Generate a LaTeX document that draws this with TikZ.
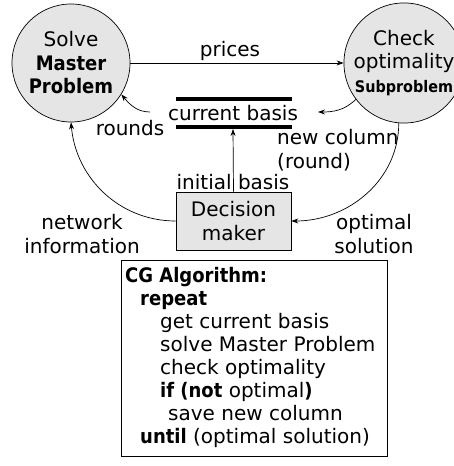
\documentclass[tikz,border=0pt]{standalone}
\usepackage{fontspec}
\setmainfont{DejaVu Sans}[BoldFont={DejaVu Sans Condensed Bold}]
\usetikzlibrary{arrows.meta}
\begin{document}
\begin{tikzpicture}[x=1pt,y=1pt,
  every node/.style={font=\fontsize{20}{23.5}\selectfont, inner sep=0pt},
  circ/.style={circle, draw, fill=black!10, minimum size=118pt, align=center, line width=0.7pt},
  dbox/.style={draw, fill=black!10, minimum width=115pt, minimum height=58pt, align=center, line width=0.7pt},
  arr/.style={-{Stealth[length=7pt,width=5pt]}, line width=0.7pt},
  bar/.style={line width=4pt},
  lbl/.style={align=center}]
\useasboundingbox (0,0) rectangle (454,466);
\node[circ] (master) at (71,403) {Solve\\\textbf{Master}\\\textbf{Problem}};
\node[circ] (check) at (404,403) {Check\\optimality\\{\fontsize{16}{18}\selectfont\bfseries Subproblem}};
\draw[arr] (master) -- (check);
\node (pr) at (230,415) {prices};
% current basis
\node (cb) at (233,353) {current basis};
\coordinate (b1l) at (176,367); \coordinate (b1r) at (292,367);
\coordinate (b2l) at (176,339); \coordinate (b2r) at (292,339);
\coordinate (b2m) at (233,337);
\draw[bar] (b1l) -- (b1r);
\draw[bar] (b2l) -- (b2r);
% decision maker
\node[dbox] (dm) at (233.5,245) {Decision\\maker};
\draw[arr] (dm.north) -- (b2m);
\node (ib) at (233,284) {initial basis};
% rounds
\coordinate (rs) at (150,354);
\draw[arr] (rs) to[out=180,in=-50] (master.-32);
\node (rd) at (130,338) {rounds};
% new column
\coordinate (ne) at (318,354);
\draw[arr] (check.-143) to[out=225,in=0] (ne);
\node[align=left, anchor=west] (nc) at (277,316) {new column\\(round)};
% big arcs
\draw[arr] (dm.west) to[out=180,in=-85] (master.south);
\draw[arr] (check.-95) to[out=-90,in=0] (dm.east);
\node[lbl] (ni) at (82,232) {network\\information};
\node[lbl] (os) at (374,232) {optimal\\solution};
% algorithm
\node[draw, line width=0.7pt, minimum width=266pt, minimum height=196pt, anchor=north west] (ab) at (121,206) {};
\node[anchor=north west, align=left, font=\fontsize{20}{23}\selectfont] (at) at (125,199) {%
\textbf{CG Algorithm:}\\
\hspace*{15pt}\textbf{repeat}\\
\hspace*{35pt}get current basis\\
\hspace*{35pt}solve Master Problem\\
\hspace*{35pt}check optimality\\
\hspace*{35pt}\textbf{if (not} optimal\textbf{)}\\
\hspace*{43pt}save new column\\
\hspace*{15pt}\textbf{until} (optimal solution)};
\end{tikzpicture}
\end{document}
